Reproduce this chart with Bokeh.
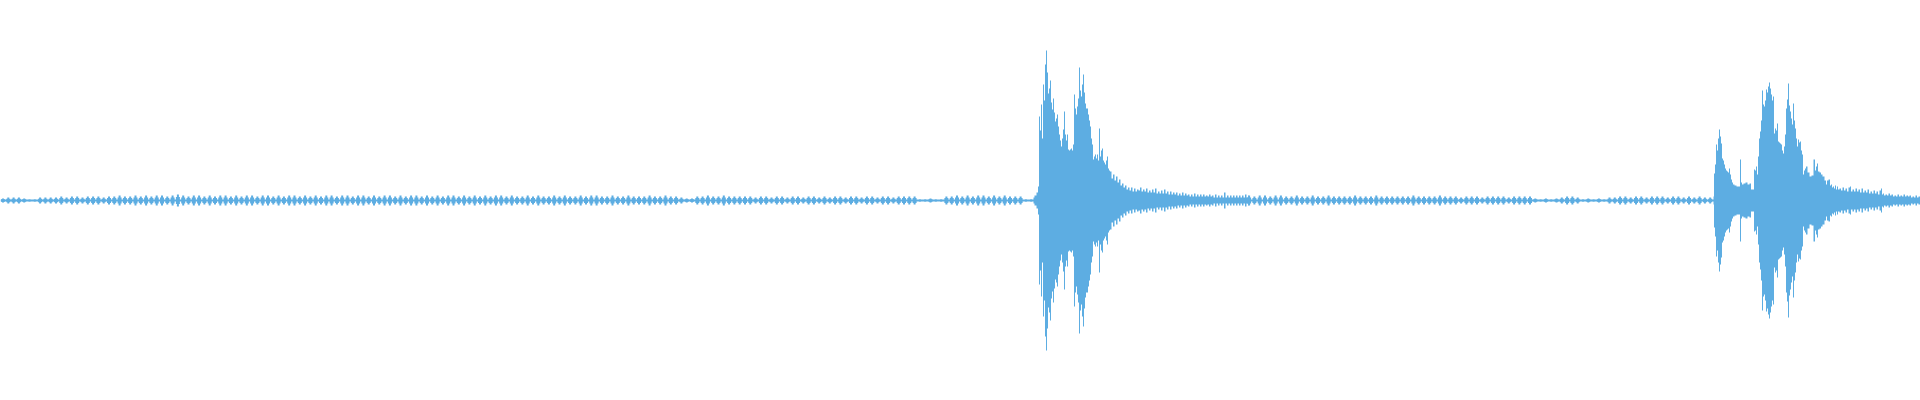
from bokeh.plotting import figure
from bokeh.models import Range1d, ColumnDataSource
from bokeh.embed import file_html
from bokeh.resources import INLINE

# Waveform of a recording, time in 10 ms frames, level in % of full scale.
# Low-level hum: peak level of each hum cycle (one cycle every 5.3 frames)
HUM_PERIOD = 5.3
hum1_start = 2.5
hum1_px = [
    2, 3, 3, 3, 2, 1, 1, 3, 3, 3,
    3, 4, 3, 4, 4, 3, 4, 4, 4, 3,
    4, 4, 5, 4, 4, 5, 4, 5, 4, 5,
    5, 4, 5, 6, 5, 4, 5, 5, 4, 5,
    4, 5, 5, 4, 5, 4, 5, 5, 4, 5,
    5, 4, 5, 4, 5, 5, 4, 5, 4, 5,
    4, 5, 5, 4, 5, 5, 4, 5, 5, 4,
    5, 4, 5, 5, 4, 5, 4, 5, 5, 4,
    5, 4, 5, 4, 5, 5, 4, 5, 4, 5,
    4, 5, 4, 5, 5, 4, 5, 4, 4, 5,
    4, 5, 4, 4, 5, 4, 5, 4, 4, 5,
    4, 5, 5, 4, 4, 5, 4, 4, 5, 4,
    4, 4, 5, 4, 4, 5, 4, 4, 3, 2,
    2, 4, 4, 5, 4, 4, 5, 4, 4, 4,
    4, 4, 3, 4, 4, 3, 4, 4, 3, 4,
    4, 3, 4, 4, 3, 4, 3, 4, 4, 3,
    4, 4, 3, 4, 4, 3, 4, 4, 3, 4,
    4, 4, 4, 1, 1, 2, 1, 1, 4, 4,
    5, 4, 5, 4, 5, 5, 4, 5, 4, 5,
    4, 4, 4, 1, 1,
]
hum2_start = 1248.6
hum2_px = [
    5, 4, 5, 5, 4, 5, 5, 4,
    4, 5, 4, 4, 5, 4, 4, 5, 4, 4,
    4, 4, 5, 4, 4, 4, 5, 4, 4, 4,
    4, 4, 4, 5, 4, 4, 4, 4, 5, 4,
    4, 4, 3, 4, 4, 4, 3, 4, 4, 4,
    4, 3, 4, 4, 4, 4, 2, 1, 2, 1,
    2, 3, 4, 4, 3, 1, 2, 1, 2, 1,
    3, 3, 4, 4, 3, 4, 4, 3, 4, 4,
    4, 3, 4, 4, 3, 4, 3, 4, 3, 3,
]
hum1_level = [v / 2 for v in hum1_px]
hum2_level = [v / 2 for v in hum2_px]
noise_floor = 0.5

# First event (frame, peak level in %)
burst1_frame = [
    1033, 1035, 1037, 1038, 1039, 1040, 1041, 1042, 1043, 1044, 1045, 1046, 1047,
    1048, 1049, 1050, 1051, 1052, 1053, 1054, 1055, 1056, 1057, 1058, 1059, 1060,
    1061, 1062, 1063, 1064, 1065, 1066, 1067, 1068, 1069, 1070, 1071, 1072, 1073,
    1074, 1075, 1076, 1077, 1078, 1079, 1080, 1081, 1082, 1083, 1084, 1085, 1086,
    1087, 1088, 1089, 1090, 1091, 1092, 1093, 1094, 1095, 1096, 1097, 1098, 1099,
    1100, 1101, 1102, 1103, 1104, 1105, 1106, 1107, 1108, 1109, 1110,
    1112, 1113, 1115, 1116, 1118, 1119, 1121, 1122, 1124, 1125, 1127, 1128,
    1130, 1131, 1133, 1134, 1136, 1137, 1139, 1140, 1142, 1143, 1145, 1146,
    1148, 1149, 1151, 1152, 1154, 1155, 1157, 1158, 1160, 1161, 1163, 1164,
    1166, 1167, 1169, 1170, 1172, 1173, 1175, 1176, 1178, 1179, 1181, 1182,
    1184, 1185, 1187, 1188, 1190, 1191, 1193, 1194, 1196, 1197, 1199, 1200,
    1202, 1203, 1205, 1206, 1208, 1209, 1211, 1212, 1214, 1215, 1217, 1218,
    1220, 1221, 1223, 1224, 1226, 1227, 1229, 1230, 1232, 1233, 1235, 1236,
    1238, 1239, 1241, 1242, 1244, 1245, 1247, 1248,
]
burst1_level = [
    1.5, 2.5, 4, 7, 42, 35, 48, 31, 58, 50, 68, 75, 64,
    53.5, 56, 60, 49, 45.5, 51, 44, 39.5, 41, 43, 37, 33, 30,
    27, 31, 35.5, 44.5, 33, 30, 33, 25.5, 25, 25.5, 26, 25, 28,
    53, 46, 43, 47, 51, 66.5, 55, 52, 58, 63, 54, 48.5, 46,
    46, 43, 40, 37, 31, 28, 20.5, 22, 23, 21, 23, 20, 36,
    22, 25, 26, 20, 19, 18, 20, 22, 16, 15, 14.5,
    11, 13, 10, 12, 9, 10.5, 7.5, 8.5, 6.5, 7.5, 5.5, 6.5,
    5, 6.5, 4.5, 6, 4.5, 5.5, 5, 6.5, 4.5, 5.5, 4.5, 6,
    4, 5, 4, 5.5, 4, 6, 3.5, 4.5, 3.5, 5, 3.5, 5.5,
    3.5, 4.5, 3, 4.5, 3, 4, 3, 4, 2.5, 3.5, 2.5, 4,
    2.5, 3.5, 2.5, 3, 2, 3, 2, 3.5, 2, 3, 2, 3,
    2, 3, 2, 2.5, 2, 3, 2, 2.5, 1.5, 3, 1.5, 2.5,
    1.5, 2.5, 1.5, 4, 1.5, 2.5, 1.5, 2.5, 1.5, 2.5, 1.5, 2.5,
    1.5, 2.5, 1.5, 2.5, 1.5, 3, 1.5, 2.5,
]

# Second event (frame, peak level in %)
burst2_frame = [
    1713, 1714, 1715, 1716, 1717, 1718, 1719, 1720, 1721, 1722, 1723, 1724, 1725,
    1726, 1727, 1728, 1729, 1730, 1731, 1732, 1733, 1735, 1737, 1739, 1740, 1741,
    1742, 1744, 1746, 1748, 1750, 1751, 1753, 1754, 1755, 1756, 1757, 1758, 1759,
    1760, 1761, 1762, 1763, 1764, 1765, 1766, 1767, 1768, 1769, 1770, 1771, 1772,
    1773, 1774, 1775, 1776, 1777, 1778, 1779, 1780, 1781, 1782, 1783, 1784, 1785,
    1786, 1787, 1788, 1789, 1790, 1791, 1792, 1793, 1794, 1795, 1796, 1797, 1798,
    1799, 1800, 1801, 1802, 1803, 1804, 1805, 1806, 1808, 1810, 1812, 1814, 1815,
    1816, 1817, 1818, 1820, 1821, 1823, 1825,
    1826, 1827, 1829, 1830, 1831, 1832, 1833, 1834, 1835, 1836, 1837, 1838,
    1840, 1841, 1843, 1844, 1846, 1847, 1849, 1850, 1851, 1853, 1854, 1856,
    1857, 1859, 1860, 1862, 1863, 1865, 1866, 1868, 1869, 1871, 1872, 1874,
    1875, 1877, 1878, 1880, 1881, 1882, 1883, 1884, 1886, 1887, 1889, 1890,
    1892, 1893, 1895, 1896, 1898, 1899, 1901, 1902, 1904, 1905, 1907, 1908,
    1910, 1911, 1913, 1914, 1916, 1917, 1919, 1920,
]
burst2_level = [
    2, 13.5, 18, 28, 25, 31, 35.5, 32, 28.5, 21, 20, 18, 16,
    15, 14.5, 14, 16, 13, 10.5, 9, 8, 7.5, 7, 7, 20.5, 9,
    8, 8.5, 9, 8, 8.5, 5.5, 5.5, 15.5, 15, 17, 13, 22, 31,
    34.5, 40, 55, 48, 47, 50, 55.5, 54, 57, 59, 56, 53, 50,
    52, 33.5, 36, 35, 38.5, 29.5, 29, 28.5, 28, 25, 23.5, 27, 33,
    46, 50.5, 58.5, 47.5, 44.5, 41, 38, 48.5, 40, 36, 31, 27, 30.5,
    29, 29.5, 25, 23, 13, 15, 16, 17, 14, 12, 12.5, 20.5, 15,
    17, 18.5, 14.5, 14, 13, 12, 10,
    8, 10, 10.5, 7.5, 8, 6.5, 7, 6, 7.5, 5.5, 7, 5.5,
    6, 5, 6.5, 5, 6, 4.5, 6.5, 7, 4.5, 5.5, 4.5, 6,
    4.5, 5.5, 4, 6, 4, 5, 4, 5.5, 3.5, 4.5, 3.5, 5,
    3.5, 4.5, 3, 5, 6, 3, 3.5, 2.5, 3, 2.5, 3.5, 2.5,
    3, 2, 2.5, 2, 3, 2, 2.5, 2, 3, 2, 2.5, 2,
    2.5, 1.5, 2, 1.5, 2.5, 1.5, 2, 1.5,
]

COLOR = "#5DADE2"
TOTAL_FRAMES = 1920

p = figure(width=1920, height=400, output_backend="svg", toolbar_location=None,
           x_range=Range1d(0, TOTAL_FRAMES), y_range=Range1d(-100, 100),
           min_border=0, background_fill_color="white", border_fill_color="white")
p.axis.visible = False
p.grid.visible = False
p.outline_line_color = None

# noise floor
p.varea(x=[0, TOTAL_FRAMES], y1=[-noise_floor, -noise_floor], y2=[noise_floor, noise_floor],
        fill_color=COLOR)

# hum cycles
hum_x = [hum1_start + i * HUM_PERIOD for i in range(len(hum1_level))] + \
        [hum2_start + i * HUM_PERIOD for i in range(len(hum2_level))]
hum_lv = hum1_level + hum2_level
hum_src = ColumnDataSource(dict(x=hum_x, top=hum_lv, bottom=[-v for v in hum_lv],
                                top2=[v * 0.6 for v in hum_lv],
                                bottom2=[-v * 0.6 for v in hum_lv]))
p.vbar(x="x", top="top2", bottom="bottom2", width=4, source=hum_src,
       fill_color=COLOR, line_color=None)
p.vbar(x="x", top="top", bottom="bottom", width=2, source=hum_src,
       fill_color=COLOR, line_color=None)

# events
for fr, lv in ((burst1_frame, burst1_level), (burst2_frame, burst2_level)):
    p.varea_step(x=fr, y1=[-v for v in lv], y2=lv, step_mode="center", fill_color=COLOR)

open("out.html", "w").write(file_html(p, INLINE))
